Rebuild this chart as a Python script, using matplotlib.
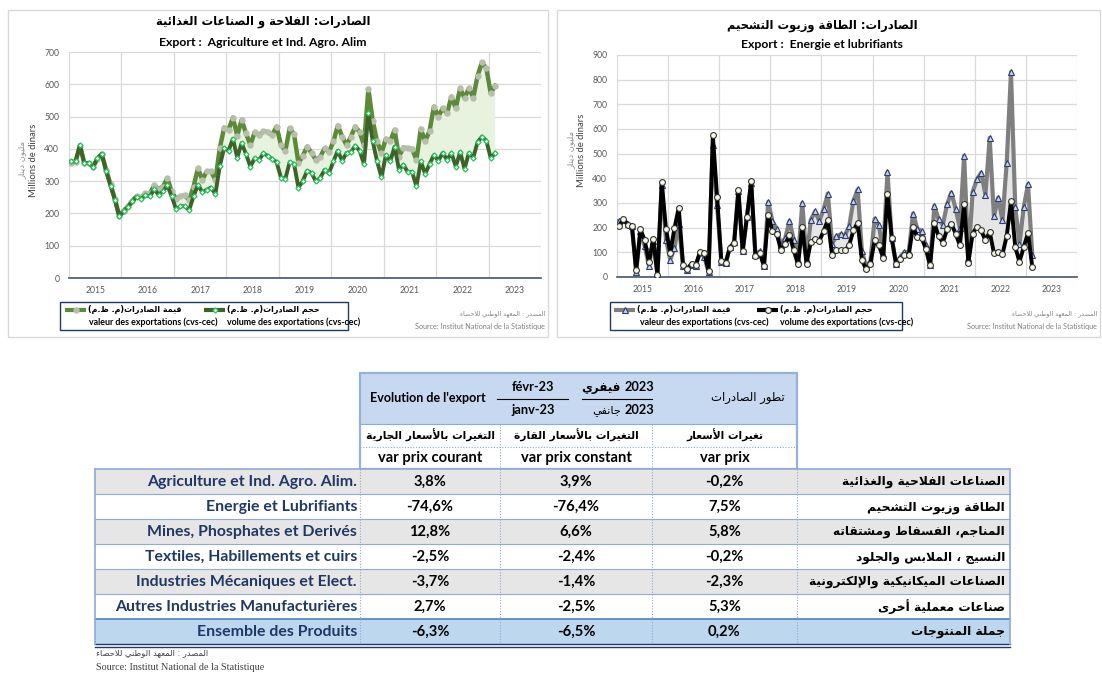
import re
import numpy as np
import matplotlib
matplotlib.use('Agg')
import matplotlib.pyplot as plt
from matplotlib.patches import Rectangle

plt.rcParams['font.family'] = ['Lato', 'DejaVu Sans']

# ---------------- data ----------------
YEARS = [2015, 2016, 2017, 2018, 2019, 2020, 2021, 2022, 2023]

agri_val = [355, 360, 410, 355, 355, 345, 368, 383, 335, 290, 245, 192,
            208, 222, 240, 253, 250, 262, 262, 287, 276, 283, 309, 268,
            245, 253, 256, 241, 283, 340, 304, 330, 330, 304, 402, 466,
            459, 497, 441, 490, 448, 412, 452, 443, 454, 452, 443, 469,
            412, 394, 464, 445, 356, 379, 407, 387, 366, 376, 402, 390,
            423, 472, 438, 412, 438, 469, 452, 412, 586, 487, 423, 387,
            431, 423, 459, 376, 404, 402, 400, 366, 462, 423, 456, 531,
            500, 526, 510, 562, 526, 588, 557, 588, 559, 627, 668, 649,
            572, 596]
agri_vol = [361, 361, 412, 356, 356, 345, 371, 385, 330, 286, 242, 191,
            206, 220, 237, 251, 245, 256, 253, 275, 258, 268, 287, 253,
            213, 222, 222, 211, 253, 289, 266, 273, 280, 260, 347, 402,
            394, 431, 373, 418, 384, 345, 371, 366, 386, 378, 368, 359,
            311, 307, 359, 353, 280, 301, 332, 325, 299, 311, 335, 325,
            361, 394, 363, 387, 390, 410, 394, 353, 510, 423, 361, 312,
            381, 361, 407, 335, 351, 328, 328, 284, 361, 322, 353, 381,
            363, 387, 366, 387, 345, 390, 338, 387, 373, 421, 438, 425,
            371, 387]

ener_val = [227, 232, 215, 205, 20, 185, 126, 45, 145, 10, 372, 151,
            70, 118, 216, 45, 27, 50, 45, 100, 81, 20, 534, 291,
            60, 55, 120, 140, 350, 105, 243, 380, 90, 104, 45, 304,
            226, 196, 131, 158, 227, 151, 68, 300, 68, 232, 266, 227,
            274, 338, 135, 165, 173, 169, 205, 308, 355, 104, 41, 64,
            236, 209, 95, 426, 158, 54, 81, 101, 101, 257, 196, 187,
            128, 47, 288, 234, 212, 295, 342, 277, 199, 491, 77, 345,
            396, 423, 334, 564, 246, 322, 230, 464, 831, 284, 135, 284,
            376, 88]
ener_vol = [207, 236, 212, 207, 27, 193, 149, 61, 155, 9, 385, 196,
            97, 199, 281, 50, 34, 54, 50, 101, 99, 23, 574, 324,
            64, 58, 119, 139, 351, 104, 243, 388, 84, 99, 45, 250,
            186, 176, 108, 135, 169, 108, 51, 203, 54, 142, 155, 146,
            186, 230, 88, 108, 108, 108, 128, 189, 220, 68, 31, 54,
            149, 128, 77, 338, 158, 54, 72, 88, 91, 203, 162, 160,
            115, 47, 220, 165, 139, 193, 216, 176, 128, 295, 58, 176,
            203, 189, 149, 182, 97, 101, 92, 166, 307, 122, 61, 122,
            178, 41]

sectors_fr = ['Agriculture et Ind. Agro. Alim.', 'Energie et Lubrifiants',
              'Mines, Phosphates et Derivés', 'Textiles, Habillements et cuirs',
              'Industries Mécaniques et Elect.', 'Autres Industries Manufacturières',
              'Ensemble des Produits']
sectors_ar = ['الصناعات الفلاحية والغذائية', 'الطاقة وزيوت التشحيم',
              'المناجم، الفسفاط ومشتقاته', 'النسيج ، الملابس والجلود',
              'الصناعات الميكانيكية والإلكترونية', 'صناعات معملية أخرى',
              'جملة المنتوجات']
var_courant = [3.8, -74.6, 12.8, -2.5, -3.7, 2.7, -6.3]
var_constant = [3.9, -76.4, 6.6, -2.4, -1.4, -2.5, -6.5]
var_prix = [-0.2, 7.5, 5.8, -0.2, -2.3, 5.3, 0.2]

# ---------------- Arabic shaping (presentation forms + visual order) -----
TWO = {'\u0622': 0xFE81, '\u0623': 0xFE83, '\u0624': 0xFE85, '\u0625': 0xFE87,
       '\u0627': 0xFE8D, '\u0629': 0xFE93, '\u062F': 0xFEA9, '\u0630': 0xFEAB,
       '\u0631': 0xFEAD, '\u0632': 0xFEAF, '\u0648': 0xFEED, '\u0649': 0xFEEF}
FOUR = {'\u0626': 0xFE89, '\u0628': 0xFE8F, '\u062A': 0xFE95, '\u062B': 0xFE99,
        '\u062C': 0xFE9D, '\u062D': 0xFEA1, '\u062E': 0xFEA5, '\u0633': 0xFEB1,
        '\u0634': 0xFEB5, '\u0635': 0xFEB9, '\u0636': 0xFEBD, '\u0637': 0xFEC1,
        '\u0638': 0xFEC5, '\u0639': 0xFEC9, '\u063A': 0xFECD, '\u0641': 0xFED1,
        '\u0642': 0xFED5, '\u0643': 0xFED9, '\u0644': 0xFEDD, '\u0645': 0xFEE1,
        '\u0646': 0xFEE5, '\u0647': 0xFEE9, '\u064A': 0xFEF1}
LAM_ALEF = {'\u0622': 0xFEF5, '\u0623': 0xFEF7, '\u0625': 0xFEF9, '\u0627': 0xFEFB}


def shape(s):
    out = []
    n = len(s)
    i = 0
    while i < n:
        c = s[i]
        prev = s[i - 1] if i > 0 else ''
        pc = prev in FOUR
        if c == '\u0644' and i + 1 < n and s[i + 1] in LAM_ALEF:
            b = LAM_ALEF[s[i + 1]]
            out.append(chr(b + 1 if pc else b))
            i += 2
            continue
        if c == '\u0621':
            out.append('\uFE80')
        elif c in TWO:
            b = TWO[c]
            out.append(chr(b + 1 if pc else b))
        elif c in FOUR:
            b = FOUR[c]
            nxt = s[i + 1] if i + 1 < n else ''
            nc = nxt in FOUR or nxt in TWO
            out.append(chr(b + (3 if (pc and nc) else 1 if pc else 2 if nc else 0)))
        else:
            out.append(c)
        i += 1
    return ''.join(out)


def ar(s):
    t = shape(s)[::-1]
    t = re.sub(r'[0-9A-Za-z%]+', lambda m: m.group(0)[::-1], t)
    return t.translate(str.maketrans('()', ')('))


def fmt(v):
    return ('%.1f' % v).replace('.', ',') + '%'

# ---------------- figure ----------------
W, H = 1102, 675
fig = plt.figure(figsize=(W / 100, H / 100), dpi=100)
bg = fig.add_axes([0, 0, 1, 1])
bg.set_xlim(0, W)
bg.set_ylim(H, 0)
bg.axis('off')


def px_axes(x0, y0, x1, y1):
    return fig.add_axes([x0 / W, 1 - y1 / H, (x1 - x0) / W, (y1 - y0) / H])


def base_chart(ax, ymax):
    ax.set_xlim(2015, 2024)
    ax.set_ylim(0, ymax)
    ax.set_xticks(np.arange(2015, 2025))
    ax.set_xticklabels([])
    ax.set_xticks(np.array(YEARS) + 0.5, minor=True)
    ax.set_xticklabels([str(y) for y in YEARS], minor=True)
    ax.set_yticks(np.arange(0, ymax + 1, 100))
    ax.tick_params(which='both', length=0, labelsize=6.2, labelcolor='#595959')
    ax.tick_params(axis='x', which='minor', pad=6)
    ax.tick_params(axis='y', pad=7)
    ax.grid(True, which='major', color='#d9d9d9', lw=0.9)
    for s in ['top', 'right', 'left']:
        ax.spines[s].set_visible(False)
    ax.spines['bottom'].set_color('#44546a')
    ax.spines['bottom'].set_linewidth(1.2)
    ax.set_axisbelow(True)


# chart frames
bg.add_patch(Rectangle((8, 10), 540, 327, fill=False, ec='#d9d9d9', lw=1))
bg.add_patch(Rectangle((557, 10), 543, 327, fill=False, ec='#d9d9d9', lw=1))

# ---- left chart ----
axL = px_axes(69, 52, 541, 278)
base_chart(axL, 700)
xa = 2015 + (np.arange(len(agri_val)) + 0.5) / 12
va, vo = np.array(agri_val), np.array(agri_vol)
axL.fill_between(xa, vo, va, where=va >= vo, interpolate=True, color='#e8f3df', lw=0, zorder=1)
axL.plot(xa, va, color='#5b8a38', lw=3.2, marker='o', ms=3.6, mfc='#b7bfab', mec='#b7bfab', zorder=3)
axL.plot(xa, vo, color='#3c6428', lw=2.8, marker='D', ms=2.6, mfc='white', mec='#21c45a', mew=0.9, zorder=4)

# ---- right chart ----
axR = px_axes(617, 55, 1077, 277)
base_chart(axR, 900)
xe = 2015 + (np.arange(len(ener_val)) + 0.5) / 12
ev, eo = np.array(ener_val), np.array(ener_vol)
axR.fill_between(xe, eo, ev, where=ev >= eo, interpolate=True, color='#e6e6e6', lw=0, zorder=1)
axR.plot(xe, ev, color='#7f7f7f', lw=3, marker='^', ms=4.8, mfc='#c9d3ea', mec='#2f3e6e', mew=0.8, zorder=3)
axR.plot(xe, eo, color='black', lw=2.8, marker='o', ms=4.2, mfc='#f4f8e6', mec='#333333', mew=0.8, zorder=4)

# titles
bg.text(263, 22, ar('الصادرات: الفلاحة و الصناعات الغذائية'), ha='center', va='center',
        fontsize=8.3, fontweight='bold', family='DejaVu Sans')
bg.text(263, 43, 'Export :  Agriculture et Ind. Agro. Alim', ha='center', va='center',
        fontsize=8.8, fontweight='bold')
bg.text(822, 25, ar('الصادرات: الطاقة وزيوت التشحيم'), ha='center', va='center',
        fontsize=8.3, fontweight='bold', family='DejaVu Sans')
bg.text(822, 45, 'Export :  Energie et lubrifiants', ha='center', va='center',
        fontsize=8.8, fontweight='bold')

# y labels
for xa_, xb_, yc in [(22, 33, 160), (571, 582, 150)]:
    bg.text(xa_, yc, ar('مليون دينار'), rotation=90, ha='center', va='center',
            fontsize=6, color='#8c8c8c', family='DejaVu Sans')
    bg.text(xb_, yc, 'Millions de dinars', rotation=90, ha='center', va='center',
            fontsize=6.8, color='#404040')

# legends
def legend(x0, x1, h1, h2, c1, c2):
    bg.add_patch(Rectangle((x0, 302), x1 - x0, 28, fill=False, ec='#1f3864', lw=1))
    for hx, (col, mk) in [(h1, c1), (h2, c2)]:
        bg.plot([hx, hx + 21], [310, 310], color=col, lw=3, solid_capstyle='butt')
        bg.plot([hx + 10.5], [310], **mk)


lv_ar = ar('قيمة الصادرات(م. ظ.م)')
lo_ar = ar('حجم الصادرات(م. ظ.م)')
legend(60, 348, 65, 204,
       ('#5b8a38', dict(marker='o', ms=3.6, mfc='#b7bfab', mec='#b7bfab')),
       ('#3c6428', dict(marker='D', ms=2.6, mfc='white', mec='#21c45a', mew=0.9)))
bg.text(88, 310, lv_ar, ha='left', va='center', fontsize=5.8, fontweight='bold', family='DejaVu Sans')
bg.text(227, 310, lo_ar, ha='left', va='center', fontsize=5.8, fontweight='bold', family='DejaVu Sans')
bg.text(89, 322, 'valeur des exportations (cvs-cec)', ha='left', va='center', fontsize=6.4, fontweight='bold')
bg.text(227, 322, 'volume des exportations (cvs-cec)', ha='left', va='center', fontsize=6.4, fontweight='bold')

legend(610, 902, 614, 757,
       ('#7f7f7f', dict(marker='^', ms=4.8, mfc='#c9d3ea', mec='#2f3e6e', mew=0.8)),
       ('black', dict(marker='o', ms=4.2, mfc='#f4f8e6', mec='#333333', mew=0.8)))
bg.text(637, 310, lv_ar, ha='left', va='center', fontsize=5.8, fontweight='bold', family='DejaVu Sans')
bg.text(780, 310, lo_ar, ha='left', va='center', fontsize=5.8, fontweight='bold', family='DejaVu Sans')
bg.text(640, 322, 'valeur des exportations (cvs-cec)', ha='left', va='center', fontsize=6.4, fontweight='bold')
bg.text(780, 322, 'volume des exportations (cvs-cec)', ha='left', va='center', fontsize=6.4, fontweight='bold')

# chart sources
for xr in [545, 1097]:
    bg.text(xr, 314, ar('المصدر : المعهد الوطني للاحصاء'), ha='right', va='center',
            fontsize=4.6, color='#7f7f7f', family='DejaVu Sans')
    bg.text(xr, 326, 'Source: Institut National de la Statistique', ha='right', va='center',
            fontsize=5.2, color='#7f7f7f')

# ---------------- table ----------------
TL, TR = 95, 1010
C1, C2, C3, C4 = 360, 500, 652, 797
HT, HB, HM, BT = 373, 424, 447, 469
RH = 25
line_c = '#8eaadb'

# header
bg.add_patch(Rectangle((C1, HT), C4 - C1, HB - HT, color='#c6d9f0', lw=0))
bg.add_patch(Rectangle((C1, HT), C4 - C1, BT - HT, fill=False, ec='#95b3d7', lw=1.6))
bg.plot([C1, C4], [HB, HB], color=line_c, lw=0.8)
bg.plot([C1, C4], [HM, HM], color=line_c, lw=0.8, ls=(0, (1, 1.5)))
for cx in [C2, C3]:
    bg.plot([cx, cx], [HB, BT], color=line_c, lw=0.8, ls=(0, (1, 1.5)))

bg.text(428, 398, "Evolution de l'export", ha='center', va='center', fontsize=9.0, fontweight='bold')
bg.text(533, 387, 'févr-23', ha='center', va='center', fontsize=9.2, fontweight='bold')
bg.plot([497, 568], [398.5, 398.5], color='black', lw=0.8)
bg.text(533, 410, 'janv-23', ha='center', va='center', fontsize=9.2, fontweight='bold')
bg.text(621, 387, ar('فيفري'), ha='right', va='center', fontsize=8.6, fontweight='bold',
        family='DejaVu Sans')
bg.text(625, 387, '2023', ha='left', va='center', fontsize=9.2, fontweight='bold')
bg.plot([582, 652], [398.5, 398.5], color='black', lw=0.8)
bg.text(621, 411, ar('جانفي'), ha='right', va='center', fontsize=8.2,
        family='DejaVu Sans')
bg.text(625, 410, '2023', ha='left', va='center', fontsize=9.2, fontweight='bold')
bg.text(748, 397, ar('تطور الصادرات'), ha='center', va='center', fontsize=8.4, family='DejaVu Sans')

ar_heads = ['التغيرات بالأسعار الجارية', 'التغيرات بالأسعار القارة', 'تغيرات الأسعار']
fr_heads = ['var prix courant', 'var prix constant', 'var prix']
centers = [(C1 + C2) / 2, (C2 + C3) / 2, (C3 + C4) / 2]
for cx, a, f in zip(centers, ar_heads, fr_heads):
    bg.text(cx, 435.5, ar(a), ha='center', va='center', fontsize=7.7, fontweight='bold',
            family='DejaVu Sans')
    bg.text(cx, 458, f, ha='center', va='center', fontsize=10.6, fontweight='bold')

# body
nrows = len(sectors_fr)
for k in range(nrows):
    y0 = BT + k * RH
    if k == nrows - 1:
        fc = '#bdd7ee'
    elif k % 2 == 0:
        fc = '#e7e6e6'
    else:
        fc = 'white'
    bg.add_patch(Rectangle((TL, y0), TR - TL, RH, color=fc, lw=0))
    yc = y0 + RH / 2 + 0.5
    bg.text(C1 - 3, yc, sectors_fr[k], ha='right', va='center', fontsize=11.4,
            fontweight='bold', color='#1f3864')
    for cx, vals in zip(centers, [var_courant, var_constant, var_prix]):
        bg.text(cx, yc, fmt(vals[k]), ha='center', va='center', fontsize=10.6, fontweight='bold')
    bg.text(TR - 5, yc, ar(sectors_ar[k]), ha='right', va='center', fontsize=8.8,
            fontweight='bold', family='DejaVu Sans')

BB = BT + nrows * RH
for k in range(1, nrows):
    y = BT + k * RH
    bg.plot([TL, TR], [y, y], color='#4f81bd' if k == nrows - 1 else line_c,
            lw=1.2 if k == nrows - 1 else 0.8)
bg.plot([TL, TR], [BT, BT], color=line_c, lw=1.2)
bg.plot([TL, TR], [BB, BB], color='#1f3864', lw=1.0)
bg.plot([TL, TR], [BB + 2.5, BB + 2.5], color='#1f3864', lw=1.0)
bg.plot([TL, TL], [BT, BB], color=line_c, lw=1.2)
bg.plot([TR, TR], [BT, BB], color=line_c, lw=1.2)
for cx in [C1, C2, C3, C4]:
    bg.plot([cx, cx], [BT, BB], color=line_c, lw=0.8, ls=(0, (1, 1.5)))

# footer
bg.text(96, 653, ar('المصدر : المعهد الوطني للاحصاء'), ha='left', va='center',
        fontsize=6, color='#404040', family='DejaVu Sans')
bg.text(96, 668, 'Source: Institut National de la Statistique', ha='left', va='center',
        fontsize=7.3, color='#404040', family='Liberation Serif')

fig.savefig('out.png', dpi=100)
